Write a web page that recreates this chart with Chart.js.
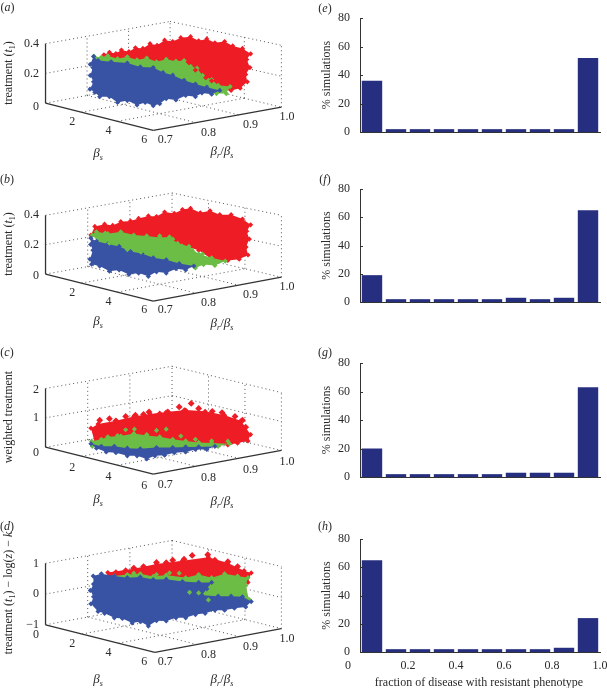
<!DOCTYPE html>
<html>
<head>
<meta charset="utf-8">
<style>
body { margin: 0; background: #fff; width: 607px; height: 688px; position: relative; overflow: hidden; font-family: "Liberation Serif", serif; color: #2a2a2a; }
canvas { position: absolute; filter: blur(0.35px); }
.lab { position: absolute; font-size: 12px; white-space: nowrap; transform: translate(-50%, -50%); line-height: 1; }
.lab sub { font-size: 8px; line-height: 0; }
.big { font-size: 13px; }
</style>
<script src="https://cdn.jsdelivr.net/npm/chart.js@4/dist/chart.umd.js"></script>
</head>
<body>
<script>
// --- DATA: histograms (% simulations in each bin) ---
const binCentres = [0.05, 0.15, 0.25, 0.35, 0.45, 0.55, 0.65, 0.75, 0.85, 0.95];
const histTicks = ['0', '0.2', '0.4', '0.6', '0.8', '1.0'];
const histE = [36, 2, 2, 2, 2, 2, 2, 2, 2, 52];
const histF = [19, 2, 2, 2, 2, 2, 3, 2, 3, 65];
const histG = [20, 2, 2, 2, 2, 2, 3, 3, 3, 63];
const histH = [65, 2, 2, 2, 2, 2, 2, 2, 3, 24];

// --- DATA: 3D tick labels ---
const betaTicks = ['2', '4', '6'];
const ratioTicks = ['0.7', '0.8', '0.9', '1.0'];
const zTicksAB = ['0', '0.2', '0.4'];
const zTicksC = ['0', '1', '2'];
const zTicksD = ['0', '\u22121', '0', '1'];

// --- DATA: cloud outlines, as read on the projected view of each 3D panel ---
const redA = [[308,160],[325,152],[345,156],[362,145],[385,150],[405,138],[428,140],[450,125],[472,130],[495,114],[520,118],[545,106],[575,103],[600,116],[625,110],[650,122],[680,118],[705,132],[735,140],[760,157],[748,175],[758,200],[745,222],[750,245],[728,265],[700,272],[672,270],[640,255],[600,225],[560,200],[450,190],[320,180]];
const greenA = [[278,165],[300,168],[320,163],[350,172],[380,166],[410,176],[440,170],[470,182],[500,174],[530,180],[555,178],[575,196],[595,202],[612,225],[640,238],[660,256],[697,260],[685,282],[655,282],[620,272],[600,262],[520,230],[430,205],[350,195],[285,190]];
const blueA = [[276,165],[290,178],[330,182],[380,186],[420,198],[460,200],[490,216],[520,224],[555,240],[590,252],[625,262],[665,272],[640,284],[610,280],[590,292],[560,288],[530,302],[500,298],[480,314],[460,320],[435,310],[410,318],[380,304],[350,310],[325,292],[295,292],[280,278],[265,268],[276,245],[266,225],[274,200],[266,190]];
const strayA = [[570,185],[590,208],[622,232],[640,242]];

const redB = [[268,192],[280,165],[310,158],[335,162],[360,150],[390,148],[415,140],[445,132],[470,134],[495,120],[525,124],[550,112],[575,108],[605,122],[635,116],[665,128],[700,128],[735,142],[760,160],[748,180],[756,205],[746,230],[752,255],[725,268],[690,272],[650,275],[600,240],[520,215],[400,200],[300,205]];
const greenB = [[272,192],[285,182],[320,188],[360,182],[400,192],[440,195],[480,200],[510,198],[535,218],[570,228],[600,252],[640,264],[682,274],[650,288],[615,285],[590,296],[560,290],[500,280],[430,260],[360,240],[300,225]];
const blueB = [[268,202],[285,212],[320,220],[355,228],[390,244],[425,250],[460,264],[500,270],[540,282],[585,290],[560,302],[530,298],[500,312],[470,308],[445,322],[415,312],[385,316],[355,302],[325,306],[295,290],[270,284],[265,268],[274,240],[267,222]];
const strayB = [[285,188],[312,186],[480,195],[520,205],[548,226],[580,240],[612,252],[422,246],[380,238],[325,218]];

const redC = [[268,265],[290,252],[345,242],[400,228],[450,220],[500,214],[560,208],[620,212],[680,224],[730,242],[760,285],[752,305],[720,312],[690,318],[620,320],[540,320],[460,315],[400,305],[340,310],[280,310]];
const greenC = [[270,306],[300,300],[320,292],[360,290],[400,282],[440,288],[480,292],[520,300],[560,305],[600,310],[640,312],[695,314],[660,322],[620,324],[560,328],[470,335],[400,335],[320,330],[272,322]];
const blueC = [[268,314],[300,322],[340,322],[380,328],[420,330],[470,326],[520,326],[560,324],[600,324],[650,322],[625,332],[590,332],[560,340],[525,342],[495,350],[465,352],[440,362],[410,352],[380,352],[345,342],[315,340],[285,328]];
const strayC = [[320,295],[375,270],[402,268],[440,285],[470,272],[500,268],[545,290],[590,300],[350,288],[640,305],[690,306],[430,300]];
const spotsC = [[295,240],[290,262],[325,235],[345,242],[375,228],[405,224],[430,222],[447,214],[480,220],[505,214],[540,198],[556,210],[577,187],[600,203],[642,212],[672,216],[712,228],[735,240],[745,262]];

const redD = [[320,184],[400,172],[470,157],[550,147],[630,136],[690,154],[740,178],[762,185],[752,215],[600,225],[500,215],[380,210],[320,200]];
const greenD = [[340,195],[380,190],[420,188],[460,196],[500,192],[560,200],[600,190],[640,200],[680,188],[720,195],[752,200],[745,225],[755,268],[700,268],[640,275],[600,260],[540,230],[450,215],[350,210]];
const blueD = [[275,195],[300,188],[340,195],[380,200],[420,198],[460,206],[500,205],[550,212],[600,215],[640,215],[625,235],[610,255],[660,258],[700,258],[735,260],[762,275],[745,292],[710,296],[680,302],[650,302],[620,312],[590,316],[560,326],[530,326],[500,336],[470,335],[445,352],[420,338],[395,342],[365,328],[340,326],[310,312],[290,306],[268,282],[276,260],[266,240],[276,220]];
const strayD = [[510,185],[540,186],[400,186],[470,190],[640,242],[600,248],[630,270],[572,246],[690,232],[710,248]];
const spotsD = [[345,184],[375,178],[400,170],[430,165],[470,152],[500,153],[520,145],[555,142],[580,130],[628,128],[650,145],[690,150],[720,165]];

// --- PANEL GEOMETRY ---
const cloudRed = '#ee1c25', cloudGreen = '#6bbd45', cloudBlue = '#3953a4';
const panelsLeft = [
    { id: 'a', top: 0, h: 170, red: redA, green: greenA, blue: blueA, stray: strayA, strayCol: cloudRed, spots: [],
      L: [128,312], F: [460,398], R: [855,325], B: [512,240], zUp: 187, zRight: 195, backUp: 185, zTicks: zTicksAB, zLabelY: [325,220,126], tickDy: 0 },
    { id: 'b', top: 170, h: 170, red: redB, green: greenB, blue: blueB, stray: strayB, strayCol: cloudGreen, spots: [],
      L: [128,315], F: [460,400], R: [855,325], B: [518,245], zUp: 185, zRight: 195, backUp: 185, zTicks: zTicksAB, zLabelY: [322,222,130], tickDy: 1 },
    { id: 'c', top: 340, h: 170, red: redC, green: greenC, blue: blueC, stray: strayC, strayCol: cloudGreen, spots: spotsC,
      L: [128,325], F: [460,410], R: [855,335], B: [518,255], zUp: 185, zRight: 182, backUp: 185, zTicks: zTicksC, zLabelY: [342,232,145], tickDy: 17 },
    { id: 'd', top: 510, h: 178, red: redD, green: greenD, blue: blueD, stray: strayD, strayCol: cloudGreen, spots: spotsD,
      L: [128,348], F: [465,435], R: [855,360], B: [518,275], zUp: 193, zRight: 195, backUp: 192, zTicks: zTicksD, zLabelY: [380,348,252,156], tickDy: 37 }
];

// a straight axis or grid line as a small scatter dataset
function segment(p, q, solid) {
    return {
        data: [{ x: p[0], y: p[1] }, { x: q[0], y: q[1] }],
        showLine: true, pointRadius: 0, fill: false,
        borderColor: solid ? '#333' : '#444',
        borderWidth: solid ? 1.3 : 0.9,
        borderDash: solid ? [] : [1, 3]
    };
}

function lerp(p, q, t) {
    return [p[0] + (q[0] - p[0]) * t, p[1] + (q[1] - p[1]) * t];
}

function cloud(points, color) {
    return {
        data: points.map(p => ({ x: p[0], y: p[1] })),
        showLine: true, fill: 'shape', borderWidth: 0,
        backgroundColor: color, borderColor: color,
        pointStyle: 'rectRot', pointRadius: 2.6, pointBackgroundColor: color, pointBorderWidth: 0
    };
}

function spots(points, color, radius) {
    const d = cloud(points, color);
    d.showLine = false;
    d.fill = false;
    d.pointRadius = radius;
    return d;
}

function boxLines(p) {
    const up = (pt, h) => [pt[0], pt[1] - h];
    const out = [];
    // walls and floor
    [0, 0.5, 1].forEach(f => {
        const hl = p.zUp * f, hb = p.backUp * f, hr = p.zRight * f;
        out.push(segment(up(p.L, hl), up(p.B, hb)));
        out.push(segment(up(p.B, hb), up(p.R, hr)));
    });
    [1 / 3, 2 / 3].forEach(f => {
        const a = lerp(p.L, p.B, f), b = lerp(p.F, p.R, f);
        out.push(segment(a, b));
        out.push(segment(a, up(a, p.zUp + (p.backUp - p.zUp) * f)));
        const c = lerp(p.L, p.F, f), d = lerp(p.B, p.R, f);
        out.push(segment(c, d));
        out.push(segment(d, up(d, p.backUp + (p.zRight - p.backUp) * f)));
    });
    out.push(segment(p.B, up(p.B, p.backUp)));
    out.push(segment(p.R, up(p.R, p.zRight)));
    // solid axes
    out.push(segment(p.L, up(p.L, p.zUp), true));
    out.push(segment(p.L, p.F, true));
    out.push(segment(p.F, p.R, true));
    return out;
}

// --- 3D tick labels, placed through the panel's scales ---
const tick3dPlugin = {
    id: 'tick3d',
    afterDraw(chart, args, o) {
        const { ctx, scales } = chart;
        ctx.save();
        ctx.font = '12px "Liberation Serif"';
        ctx.fillStyle = '#2a2a2a';
        ctx.textBaseline = 'middle';
        ctx.textAlign = 'right';
        o.z.forEach((t, i) => ctx.fillText(t, scales.x.getPixelForValue(108), scales.y.getPixelForValue(o.zY[i])));
        ctx.textAlign = 'center';
        const d = o.dy;
        betaTicks.forEach((t, i) => ctx.fillText(t, scales.x.getPixelForValue([210, 322, 432][i]), scales.y.getPixelForValue([372, 400, 428][i] + d)));
        ratioTicks.forEach((t, i) => ctx.fillText(t, scales.x.getPixelForValue([497, 630, 760, 872][i]), scales.y.getPixelForValue([427, 405, 380, 355][i] + d)));
        ctx.restore();
    }
};

function addCanvas(left, top, w, h) {
    const c = document.createElement('canvas');
    c.width = w; c.height = h;
    c.style.left = left + 'px'; c.style.top = top + 'px';
    c.style.width = w + 'px'; c.style.height = h + 'px';
    document.body.appendChild(c);
    return c;
}

function addLabel(html, x, y, rot, cls) {
    const d = document.createElement('div');
    d.className = 'lab' + (cls ? ' ' + cls : '');
    d.innerHTML = html;
    d.style.left = x + 'px'; d.style.top = y + 'px';
    if (rot) d.style.transform = 'translate(-50%, -50%) rotate(-90deg)';
    document.body.appendChild(d);
}

panelsLeft.forEach(p => {
    const ds = [
        spots(p.stray, p.strayCol, 2.6),
        cloud(p.blue, cloudBlue),
        cloud(p.green, cloudGreen),
        spots(p.spots, cloudRed, 3.4),
        cloud(p.red, cloudRed)
    ];
    new Chart(addCanvas(0, p.top, 300, p.h), {
        type: 'scatter',
        data: { datasets: ds.concat(boxLines(p)) },
        plugins: [tick3dPlugin],
        options: {
            responsive: false, animation: false,
            layout: { padding: 0 },
            plugins: {
                legend: { display: false }, tooltip: { enabled: false },
                tick3d: { z: p.zTicks, zY: p.zLabelY, dy: p.tickDy }
            },
            scales: {
                x: { type: 'linear', display: false, min: 0, max: 900 },
                y: { type: 'linear', display: false, min: 0, max: p.h * 3, reverse: true }
            }
        }
    });
});

// --- HISTOGRAMS ---
const inwardTicks = {
    id: 'inwardTicks',
    afterDraw(chart) {
        const { ctx, scales } = chart;
        ctx.save();
        ctx.strokeStyle = '#333';
        ctx.beginPath();
        scales.y.ticks.forEach((t, i) => {
            const y = Math.round(scales.y.getPixelForTick(i)) + 0.5;
            ctx.moveTo(scales.x.left, y);
            ctx.lineTo(scales.x.left + 3, y);
        });
        ctx.stroke();
        ctx.restore();
    }
};

const histPanels = [
    { values: histE, top: 0, h: 170, padTop: 18, bottom: 38 },
    { values: histF, top: 170, h: 170, padTop: 19, bottom: 38 },
    { values: histG, top: 340, h: 170, padTop: 23, bottom: 33 },
    { values: histH, top: 510, h: 178, padTop: 29, bottom: 36, last: true }
];

histPanels.forEach(p => {
    new Chart(addCanvas(320, p.top, 287, p.h), {
        type: 'bar',
        data: {
            labels: binCentres,
            datasets: [{ data: p.values, backgroundColor: '#262f7f', barPercentage: 0.85, categoryPercentage: 1 }]
        },
        plugins: [inwardTicks],
        options: {
            responsive: false, animation: false,
            layout: { padding: { top: p.padTop, right: 7, left: 0, bottom: 0 } },
            plugins: { legend: { display: false }, tooltip: { enabled: false } },
            scales: {
                x: {
                    type: 'linear', min: 0, max: 1, offset: false,
                    grid: { display: false },
                    border: { color: '#333', width: 1 },
                    afterFit: s => { s.height = p.bottom; },
                    ticks: {
                        display: !!p.last, stepSize: 0.2, autoSkip: false, maxRotation: 0, padding: -1,
                        color: '#2a2a2a', font: { family: 'Liberation Serif', size: 12 },
                        callback: (v, i) => i === 0 ? '' : histTicks[i]
                    }
                },
                y: {
                    min: 0, max: 80,
                    grid: { display: false },
                    border: { color: '#333', width: 1 },
                    afterFit: s => { s.width = 40; },
                    title: { display: true, text: '% simulations', color: '#2a2a2a', padding: 0, font: { family: 'Liberation Serif', size: 12 } },
                    ticks: { stepSize: 20, padding: 2, color: '#2a2a2a', font: { family: 'Liberation Serif', size: 12 } }
                }
            }
        }
    });
});

// --- TEXT LABELS ---
const beta = '<i>\u03b2<sub>s</sub></i>';
[['a', 7.5, 7], ['b', 7, 179], ['c', 7, 352], ['d', 7, 526], ['e', 325, 8], ['f', 325, 179], ['g', 325, 352], ['h', 325, 526]]
    .forEach(l => addLabel('(<i>' + l[0] + '</i>)', l[1], l[2]));

addLabel('treatment (<i>t</i><sub>1</sub>)', 8, 73, true);
addLabel('treatment (<i>t</i><sub>1</sub>)', 8, 244, true);
addLabel('weighted treatment', 8, 417, true);
addLabel('treatment (<i>t</i><sub>1</sub>) \u2212 log(<i>z</i>) \u2212 <i>k</i>', 8, 593, true);

[[152, 150], [320, 322], [498, 500], [678, 678]].forEach(a => {
    addLabel(beta, 98, a[0], false, 'big');
    addLabel('<i>\u03b2<sub>r</sub></i>/' + beta, 222, a[1], false, 'big');
});
addLabel('0', 348, 665);
addLabel('fraction of disease with resistant phenotype', 479, 682);
</script>
</body>
</html>
